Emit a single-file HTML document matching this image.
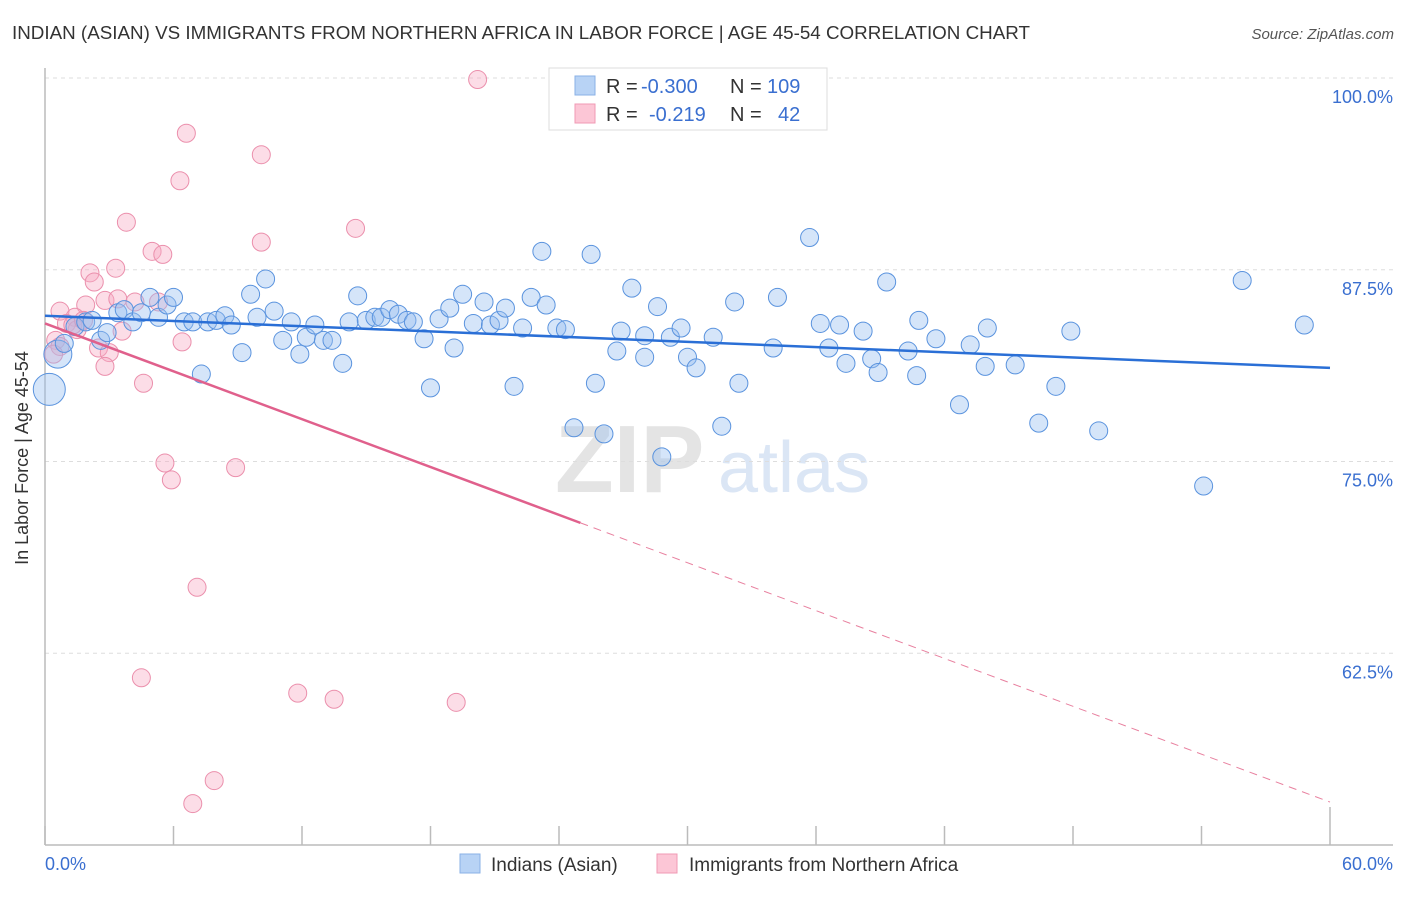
<!DOCTYPE html>
<html><head><meta charset="utf-8"><style>
body{margin:0;background:#fff;font-family:"Liberation Sans",sans-serif}
svg text{font-family:"Liberation Sans",sans-serif}
</style></head><body>
<svg id="c" width="1406" height="892" xmlns="http://www.w3.org/2000/svg">
<text x="12" y="39" font-size="18" fill="#333" textLength="1018" lengthAdjust="spacingAndGlyphs">INDIAN (ASIAN) VS IMMIGRANTS FROM NORTHERN AFRICA IN LABOR FORCE | AGE 45-54 CORRELATION CHART</text>
<text x="1394" y="39" font-size="15" fill="#555" font-style="italic" text-anchor="end">Source: ZipAtlas.com</text>
<g>
<text x="555" y="492" font-size="96" font-family="Liberation Serif" fill="#e4e4e4" font-weight="bold">ZIP</text>
<text x="718" y="492" font-size="72" fill="#dbe6f5">atlas</text>
</g>
<g id="grid"></g>
<g id="axes"></g>
<g id="pts"></g>
<g id="trend"></g>
<text x="28" y="458" font-size="18" fill="#333" transform="rotate(-90 28 458)" text-anchor="middle">In Labor Force | Age 45-54</text>
<g>
<rect x="549" y="68" width="278" height="62" fill="#fff" stroke="#ddd"/>
<rect x="575" y="76" width="20" height="19" fill="#b8d3f5" stroke="#8ab0e6"/>
<rect x="575" y="104" width="20" height="19" fill="#fcc6d6" stroke="#f09ab4"/>
<text x="606" y="93" font-size="20" fill="#333">R =</text>
<text x="641" y="93" font-size="20" fill="#3a6fd0">-0.300</text>
<text x="730" y="93" font-size="20" fill="#333">N =</text>
<text x="767" y="93" font-size="20" fill="#3a6fd0">109</text>
<text x="606" y="121" font-size="20" fill="#333">R =</text>
<text x="649" y="121" font-size="20" fill="#3a6fd0">-0.219</text>
<text x="730" y="121" font-size="20" fill="#333">N =</text>
<text x="778" y="121" font-size="20" fill="#3a6fd0">42</text>
</g>
<g>
<rect x="460" y="854" width="20" height="19" fill="#b8d3f5" stroke="#8ab0e6"/>
<text x="491" y="871" font-size="19" fill="#333">Indians (Asian)</text>
<rect x="657" y="854" width="20" height="19" fill="#fcc6d6" stroke="#f09ab4"/>
<text x="689" y="871" font-size="19" fill="#333">Immigrants from Northern Africa</text>
</g>
</svg>
<script>
const blueX=[0.2,0.6,0.9,1.4,1.9,2.2,2.6,2.9,3.4,3.7,4.1,4.5,4.9,5.3,5.7,6.0,6.5,6.9,7.3,7.6,8.0,8.4,8.7,9.2,9.6,9.9,10.3,10.7,11.1,11.5,11.9,12.2,12.6,13.0,13.4,13.9,14.2,14.6,15.0,15.4,15.7,16.1,16.5,16.9,17.2,17.7,18.0,18.4,18.9,19.1,19.5,20.0,20.5,20.8,21.2,21.5,21.9,22.3,22.7,23.2,23.4,23.9,24.3,24.7,25.5,25.7,26.1,26.7,26.9,27.4,28.0,28.0,28.6,28.8,29.2,29.7,30.0,30.4,31.2,31.6,32.2,32.4,34.0,34.2,35.7,36.2,36.6,37.1,37.4,38.2,38.6,38.9,39.3,40.3,40.7,40.8,41.6,42.7,43.2,43.9,44.0,45.3,46.4,47.2,47.9,49.2,54.1,55.9,58.8];
const blueY=[79.7,82.0,82.7,83.8,84.1,84.2,82.9,83.4,84.7,84.9,84.1,84.7,85.7,84.4,85.2,85.7,84.1,84.1,80.7,84.1,84.2,84.5,83.9,82.1,85.9,84.4,86.9,84.8,82.9,84.1,82.0,83.1,83.9,82.9,82.9,81.4,84.1,85.8,84.2,84.4,84.4,84.9,84.6,84.2,84.1,83.0,79.8,84.3,85.0,82.4,85.9,84.0,85.4,83.9,84.2,85.0,79.9,83.7,85.7,88.7,85.2,83.7,83.6,77.2,88.5,80.1,76.8,82.2,83.5,86.3,81.8,83.2,85.1,75.3,83.1,83.7,81.8,81.1,83.1,77.3,85.4,80.1,82.4,85.7,89.6,84.0,82.4,83.9,81.4,83.5,81.7,80.8,86.7,82.2,80.6,84.2,83.0,78.7,82.6,81.2,83.7,81.3,77.5,79.9,83.5,77.0,73.4,86.8,83.9];
const blueSize=[16,14];
const pinkX=[20.2,6.6,10.1,6.3,3.8,14.5,10.1,5.0,5.5,3.3,2.1,2.3,0.7,1.9,2.8,3.4,4.2,5.3,1.4,1.0,1.5,3.6,0.5,0.7,6.4,2.5,3.0,2.8,4.6,5.6,5.9,8.9,7.1,4.5,11.8,13.5,19.2,7.9,6.9,0.4,1.3,1.8];
const pinkY=[99.9,96.4,95.0,93.3,90.6,90.2,89.3,88.7,88.5,87.6,87.3,86.7,84.8,85.2,85.5,85.6,85.4,85.4,84.4,84.0,83.6,83.5,82.9,82.5,82.8,82.4,82.1,81.2,80.1,74.9,73.8,74.6,66.8,60.9,59.9,59.5,59.3,54.2,52.7,82.0,83.9,84.2];
const blueTrend=[84.5,81.1];
const pinkTrend=[84.0,52.8];
const pinkSolidEnd=25;
const yTicks=[100,87.5,75,62.5];
const yTickLabels=["100.0%","87.5%","75.0%","62.5%"];
const xTicks=[0,6,12,18,24,30,36,42,48,54,60];

const NS="http://www.w3.org/2000/svg";
const sx=v=>45+v/60*1285, sy=v=>845-(v-50)/50*767;
function mk(tag,attrs,parent){const e=document.createElementNS(NS,tag);for(const k in attrs)e.setAttribute(k,attrs[k]);document.getElementById(parent).appendChild(e);return e;}
yTicks.forEach((t,i)=>{
 const g=mk('line',{x1:45,x2:1393,y1:sy(t),y2:sy(t),stroke:'#ddd','stroke-dasharray':'4,4'},'grid');
 
 
 const l=mk('text',{x:1393,y:sy(t)+25,'font-size':18,fill:'#3a6fd0','text-anchor':'end'},'grid');
 l.textContent=yTickLabels[i];
 
 
});
const ya=mk('line',{x1:45,x2:45,y1:68,y2:845,stroke:'#bbb','stroke-width':1.5},'axes');


const xa=mk('line',{x1:45,x2:1393,y1:845,y2:845,stroke:'#bbb','stroke-width':1.5},'axes');


xTicks.forEach((t,i)=>{
 const tk=mk('line',{x1:sx(t),x2:sx(t),y1:i==xTicks.length-1?807:826,y2:845,stroke:'#bbb','stroke-width':1.5},'axes');
 
 
});
[[0,'0.0%','start',45],[60,'60.0%','end',1393]].forEach(a=>{
 const l=mk('text',{x:a[3],y:870,'font-size':18,fill:'#3a6fd0','text-anchor':a[2]},'axes');
 l.textContent=a[1];
 
 
});
pinkX.forEach((x,i)=>{
 const c=mk('circle',{cx:sx(x),cy:sy(pinkY[i]),r:9,fill:'rgba(248,170,195,0.4)',stroke:'#eb8fac','stroke-width':1},'pts');
 
 
});
blueX.forEach((x,i)=>{
 const c=mk('circle',{cx:sx(x),cy:sy(blueY[i]),r:blueSize[i]||9,fill:'rgba(150,190,240,0.4)',stroke:'#5a93de','stroke-width':1},'pts');
 
 
});
const bt=mk('line',{x1:sx(0),y1:sy(blueTrend[0]),x2:sx(60),y2:sy(blueTrend[1]),stroke:'#2a6fd6','stroke-width':2.5},'trend');


const pm=pinkTrend[0]+(pinkTrend[1]-pinkTrend[0])*pinkSolidEnd/60;
const pt=mk('line',{x1:sx(0),y1:sy(pinkTrend[0]),x2:sx(pinkSolidEnd),y2:sy(pm),stroke:'#e0608c','stroke-width':2.5},'trend');


const pd=mk('line',{x1:sx(pinkSolidEnd),y1:sy(pm),x2:sx(60),y2:sy(pinkTrend[1]),stroke:'#e8809f','stroke-width':1,'stroke-dasharray':'8,6'},'trend');


</script>
</body></html>
